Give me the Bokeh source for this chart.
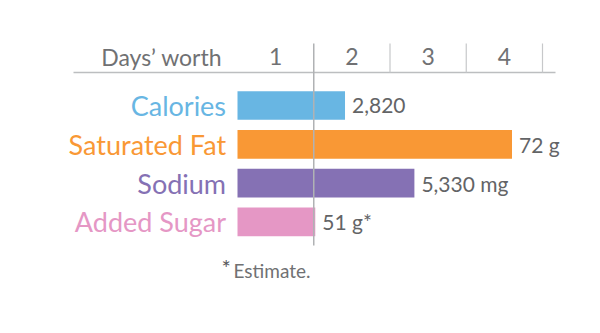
from bokeh.plotting import figure
from bokeh.models import Range1d, ColumnDataSource
from bokeh.core.properties import value
from bokeh.embed import file_html
from bokeh.resources import INLINE

# ---- data ----
categories = ["Calories", "Saturated Fat", "Sodium", "Added Sugar"]
days_worth = [1.41, 3.60, 2.32, 1.02]
value_labels = ["2,820", "72 g", "5,330 mg", "51 g*"]
colors = ["#68b6e3", "#f99835", "#8571b4", "#e597c5"]
tick_labels = ["1", "2", "3", "4"]
tick_values = [1, 2, 3, 4]
header_title = "Days\u2019 worth"
footnote = "Estimate."

FONT = "Lato"
TXT = "#707173"

# pixel geometry -> data ranges
px_per_day = 76.25
x0_px = 237
row_px = 38.8
row0_px = 105
W, H = 600, 333

p = figure(width=W, height=H, output_backend="svg", toolbar_location=None,
           x_range=Range1d(-x0_px / px_per_day, (W - x0_px) / px_per_day),
           y_range=Range1d((H - row0_px) / row_px, -row0_px / row_px),
           min_border=0, outline_line_color=None)
p.axis.visible = False
p.grid.visible = False
p.background_fill_color = "white"
p.border_fill_color = "white"

ys = list(range(len(categories)))
src = ColumnDataSource(dict(y=ys, right=days_worth, cat=categories,
                            lab=value_labels, color=colors))

p.hbar(y="y", left=0, right="right", height=0.74, fill_color="color",
       line_color=None, source=src)

# category labels
p.text(x=-0.15, y="y", text="cat", text_color="color", source=src,
       text_align="right", text_baseline="middle", text_font=value(FONT),
       text_font_size="27px")

# value labels
p.text(x="right", y="y", text="lab", x_offset=7, source=src,
       text_align="left", text_baseline="middle", text_font=value(FONT),
       text_color="#636466", text_font_size="21px")

# header
hy = (56 - row0_px) / row_px
p.text(x=[-0.2], y=[hy], text=[header_title], text_align="right",
       text_baseline="middle", text_font=value(FONT), text_color=TXT,
       text_font_size="23px")
p.text(x=[v - 0.5 for v in tick_values], y=[hy] * 4, text=tick_labels,
       text_align="center", text_baseline="middle", text_font=value(FONT),
       text_color=TXT, text_font_size="23px")

axis_y = (72 - row0_px) / row_px
tick_top = (43 - row0_px) / row_px
p.segment(x0=[(73 - x0_px) / px_per_day], x1=[(555 - x0_px) / px_per_day],
          y0=[axis_y], y1=[axis_y], line_color="#bcbec0", line_width=1.5)
p.segment(x0=tick_values[1:], x1=tick_values[1:], y0=[tick_top] * 3,
          y1=[axis_y] * 3, line_color="#c7c8ca", line_width=1.2)
# reference line at 1 day
p.segment(x0=[1], x1=[1], y0=[tick_top], y1=[(245 - row0_px) / row_px],
          line_color="#b0b2b4", line_width=1.5)

# footnote
fy = (270 - row0_px) / row_px
p.text(x=[(221 - x0_px) / px_per_day], y=[fy - 0.08], text=["*"],
       text_align="left", text_baseline="middle", text_font=value(FONT),
       text_color="#58595b", text_font_size="22px")
p.text(x=[(233 - x0_px) / px_per_day], y=[fy], text=[footnote],
       text_align="left", text_baseline="middle", text_font=value(FONT),
       text_color=TXT, text_font_size="19px")

open("out.html", "w").write(file_html(p, INLINE))
